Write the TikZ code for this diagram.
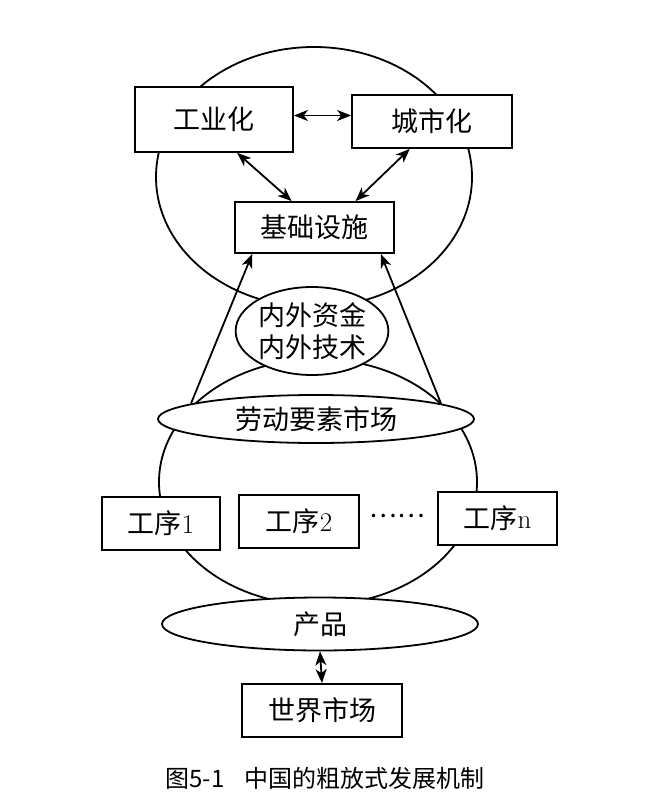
\documentclass[tikz,border=0pt]{standalone}
\usepackage{fontspec}
\newfontfamily\cjk{Noto Sans CJK SC}
\usetikzlibrary{arrows.meta,calc,shapes.geometric}

\begin{document}
\begin{tikzpicture}[x=1pt,y=-1pt,
  kasten/.style={draw,fill=white,line width=1.8pt,inner sep=0pt,minimum height=53pt,font=\cjk\fontsize{27}{32}\selectfont},
  oval/.style={draw,ellipse,fill=white,line width=1.8pt,inner sep=0pt,align=center,font=\cjk\fontsize{27}{32}\selectfont},
  kreis/.style={draw,ellipse,line width=1.8pt,inner sep=0pt},
  pfeil/.style={line width=1.8pt,arrows={-{Stealth[length=14pt,width=11pt,inset=4pt]}}},
  doppelpfeil/.style={line width=1.8pt,arrows={{Stealth[length=14pt,width=11pt,inset=4pt]}-{Stealth[length=14pt,width=11pt,inset=4pt]}}}]
\useasboundingbox (0,0) rectangle (651,800);
\pgfmathsetmacro{\breite}{316}
% grosse Kreise
\node[kreis,minimum width=\breite pt,minimum height=260pt] (oben) at (314,177) {};
\node[kreis,minimum width=318pt,minimum height=246pt] (unten) at (318,482) {};
% oberer Teil
\node[kasten,minimum width=158pt,minimum height=65pt] (ind) at (214,119.5) {工业化};
\node[kasten,minimum width=160pt] (stadt) at (432,121.5) {城市化};
\node[kasten,minimum width=159pt,minimum height=51pt] (basis) at (314.5,227.5) {基础设施};
\node[oval,minimum width=150pt,minimum height=88pt] (kapital) at (312,331) {内外资金\\内外技术};
\node[oval,minimum width=\breite pt,minimum height=48pt] (arbeit) at (316,419) {劳动要素市场};
% unterer Teil
\node[kasten,minimum width=118pt] (p1) at (161,523.5) {工序{\rmfamily 1}};
\node[kasten,minimum width=120pt] (p2) at (299,521.5) {工序{\rmfamily 2}};
\node[font=\cjk\fontsize{26}{32}\selectfont] (punkte) at (397,516) {……};
\node[kasten,minimum width=119pt] (pn) at (497.5,518.5) {工序{\rmfamily n}};
\node[oval,minimum width=\breite pt,minimum height=53pt] (produkt) at (320,624) {产品};
\node[kasten,minimum width=160pt] (welt) at (322,710.5) {世界市场};
% Pfeile
\draw[doppelpfeil] ([yshift=4pt]ind.east) -- ([yshift=4pt]ind.east -| stadt.west);
\draw[doppelpfeil] ($(ind.south west)!0.645!(ind.south east)$) -- ($(basis.north west)!0.358!(basis.north east)$);
\draw[doppelpfeil] ($(stadt.south west)!0.3625!(stadt.south east)$) -- ($(basis.north west)!0.755!(basis.north east)$);
\draw[pfeil] (arbeit.173) -- ($(basis.south west)!0.113!(basis.south east)$);
\draw[pfeil] (arbeit.7) -- ($(basis.south west)!0.912!(basis.south east)$);
\draw[doppelpfeil] (produkt.south) -- (welt.north);
% Titel
\node[font=\cjk\fontsize{24}{28}\selectfont] (titel) at (325,778) {图5-1\hspace{20pt}中国的粗放式发展机制};
\end{tikzpicture}
\end{document}
